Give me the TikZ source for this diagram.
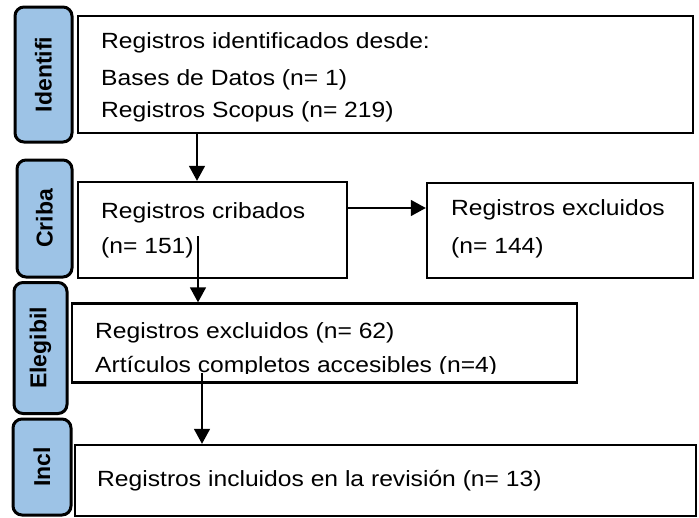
\documentclass[tikz,border=0pt]{standalone}
\usepackage{fontspec}
\setmainfont{Liberation Sans}[FakeStretch=1.12]
\newfontfamily\tabfont{Liberation Sans}
\usetikzlibrary{arrows.meta}
\definecolor{tabblue}{RGB}{157,195,230}
\tikzset{
  box/.style={draw=black, line width=2.4pt, fill=white, inner sep=0pt},
  tabbox/.style={draw=black, line width=3pt, fill=tabblue, rounded corners=9pt, inner sep=0pt},
  tablabel/.style={rotate=90, font=\tabfont\fontsize{23}{25}\selectfont\bfseries, inner sep=0pt},
  txt/.style={anchor=base west, inner sep=0pt, font=\fontsize{22}{25}\selectfont},
  arr/.style={line width=1.6pt, -{Triangle[width=16pt,length=15pt]}}
}
\begin{document}
\begin{tikzpicture}[x=1pt,y=-1pt]
\useasboundingbox (0,0) rectangle (699,517);
\clip (0,0) rectangle (699,517);
% stage tabs
\node[tabbox, minimum width=57pt, minimum height=135pt] (t1) at (43.5,74.5) {};
\node[tablabel] (l1) at (t1.center) {Identifi};
\node[tabbox, minimum width=55pt, minimum height=117pt] (t2) at (44.5,218.5) {};
\node[tablabel] (l2) at (t2.center) {Criba};
\node[tabbox, minimum width=53pt, minimum height=131pt] (t3) at (40.5,348) {};
\node[tablabel] (l3) at (t3.center) {Elegibil};
\node[tabbox, minimum width=58pt, minimum height=96pt] (t4) at (42,467) {};
\node[tablabel] (l4) at (t4.center) {Incl};
% boxes
\node[box, minimum width=615pt, minimum height=117pt] (b1) at (385.5,74.5) {};
\node[box, minimum width=269pt, minimum height=96pt] (b2) at (212.5,230) {};
\node[box, minimum width=266pt, minimum height=95pt] (b3) at (560,230.5) {};
\node[box, minimum width=505pt, minimum height=79pt] (b4) at (324.5,343) {};
\node[box, minimum width=621pt, minimum height=71pt] (b5) at (385.5,480.5) {};
% texts
\node[txt] (x11) at (101,48) {Registros identificados desde:};
\node[txt] (x12) at (101,85) {Bases de Datos (n= 1)};
\node[txt] (x13) at (101,117) {Registros Scopus (n= 219)};
\node[txt] (x21) at (101,218) {Registros cribados};
\node[txt] (x22) at (101,253) {(n= 151)};
\node[txt] (x31) at (451,215) {Registros excluidos};
\node[txt] (x32) at (451,253) {(n= 144)};
\node[txt] (x41) at (95,338) {Registros excluidos (n= 62)};
\begin{scope}
\clip (72,350) rectangle (577,373.5);
\node[txt] (x42) at (95,372) {Artículos completos accesibles (n=4)};
\end{scope}
\node[txt] (x51) at (97,486) {Registros incluidos en la revisión (n= 13)};
% connectors
\coordinate (c1) at (197,0);
\coordinate (c2s) at (198,236);
\coordinate (c3s) at (202,373);
\coordinate (c4) at (0,208);
\draw[arr] (b1.south -| c1) -- (b2.north -| c1);
\draw[arr] (c2s) -- (b4.north -| c2s);
\draw[arr] (c3s) -- (b5.north -| c3s);
\draw[arr] (b2.east |- c4) -- (b3.west |- c4);
\end{tikzpicture}
\end{document}
